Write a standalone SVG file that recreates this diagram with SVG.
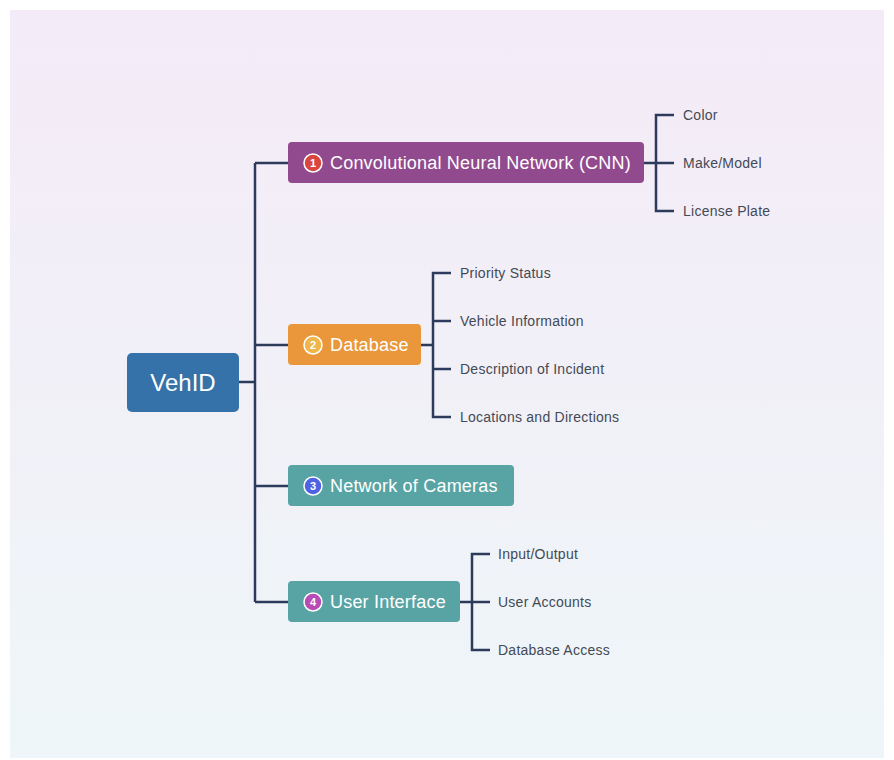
<svg xmlns="http://www.w3.org/2000/svg" width="894" height="760" viewBox="0 0 894 760">
<defs>
<linearGradient id="bg" x1="0" y1="0" x2="0" y2="1">
<stop offset="0" stop-color="#f4ebf8"/>
<stop offset="0.5" stop-color="#f1f0f7"/>
<stop offset="1" stop-color="#eef6f9"/>
</linearGradient>
<style>
.ln{fill:none;stroke:#2c3b5c;stroke-width:2.5;stroke-linejoin:miter}
.main{font-family:"Liberation Sans","Noto Sans",Arial,sans-serif;font-size:18px;letter-spacing:0.2px;fill:#ffffff}
.leaf{font-family:"Liberation Sans","Noto Sans",Arial,sans-serif;font-size:14px;letter-spacing:0.25px;fill:#444a55}
.badge{stroke:#ffffff;stroke-width:1.5}
.bnum{font-family:"Liberation Sans","Noto Sans",Arial,sans-serif;font-size:11px;font-weight:bold;fill:#ffffff;text-anchor:middle}
</style>
</defs>
<rect x="0" y="0" width="894" height="760" fill="#ffffff"/>
<rect x="10" y="10" width="874" height="748" fill="url(#bg)"/>

<g id="connectors">
<path class="ln" d="M239 382 H255 M255 163 V602 M255 163 H288 M255 345 H288 M255 486 H288 M255 602 H288"/>
<path class="ln" d="M644 163 H656 M674 115 H656 V211 H674 M656 163 H674"/>
<path class="ln" d="M421 345 H433 M451 273 H433 V417 H451 M433 321 H451 M433 369 H451"/>
<path class="ln" d="M460 602 H472 M490 554 H472 V650 H490 M472 602 H490"/>
</g>

<g id="root">
<rect x="127" y="353" width="112" height="59" rx="5" fill="#3572aa"/>
<text x="183" y="391" text-anchor="middle" font-family="Liberation Sans, Noto Sans, Arial, sans-serif" font-size="24" font-weight="500" fill="#ffffff">VehID</text>
</g>

<g id="n1">
<rect x="288" y="142" width="356" height="41" rx="4" fill="#924a8f"/>
<circle class="badge" cx="313" cy="163" r="9" fill="#d9463e"/>
<text class="bnum" x="313" y="167">1</text>
<text class="main" x="330" y="169">Convolutional Neural Network (CNN)</text>
</g>
<g id="n1a"><text class="leaf" x="683" y="120">Color</text></g>
<g id="n1b"><text class="leaf" x="683" y="168">Make/Model</text></g>
<g id="n1c"><text class="leaf" x="683" y="216">License Plate</text></g>

<g id="n2">
<rect x="288" y="324" width="133" height="41" rx="4" fill="#e9973a"/>
<circle class="badge" cx="313" cy="345" r="9" fill="#efb64a"/>
<text class="bnum" x="313" y="349">2</text>
<text class="main" x="330" y="351">Database</text>
</g>
<g id="n2a"><text class="leaf" x="460" y="278">Priority Status</text></g>
<g id="n2b"><text class="leaf" x="460" y="326">Vehicle Information</text></g>
<g id="n2c"><text class="leaf" x="460" y="374">Description of Incident</text></g>
<g id="n2d"><text class="leaf" x="460" y="422">Locations and Directions</text></g>

<g id="n3">
<rect x="288" y="465" width="226" height="41" rx="4" fill="#58a4a4"/>
<circle class="badge" cx="313" cy="486" r="9" fill="#4f62e4"/>
<text class="bnum" x="313" y="490">3</text>
<text class="main" x="330" y="492">Network of Cameras</text>
</g>

<g id="n4">
<rect x="288" y="581" width="172" height="41" rx="4" fill="#58a4a4"/>
<circle class="badge" cx="313" cy="602" r="9" fill="#b84bb7"/>
<text class="bnum" x="313" y="606">4</text>
<text class="main" x="330" y="608">User Interface</text>
</g>
<g id="n4a"><text class="leaf" x="498" y="559">Input/Output</text></g>
<g id="n4b"><text class="leaf" x="498" y="607">User Accounts</text></g>
<g id="n4c"><text class="leaf" x="498" y="655">Database Access</text></g>
</svg>
